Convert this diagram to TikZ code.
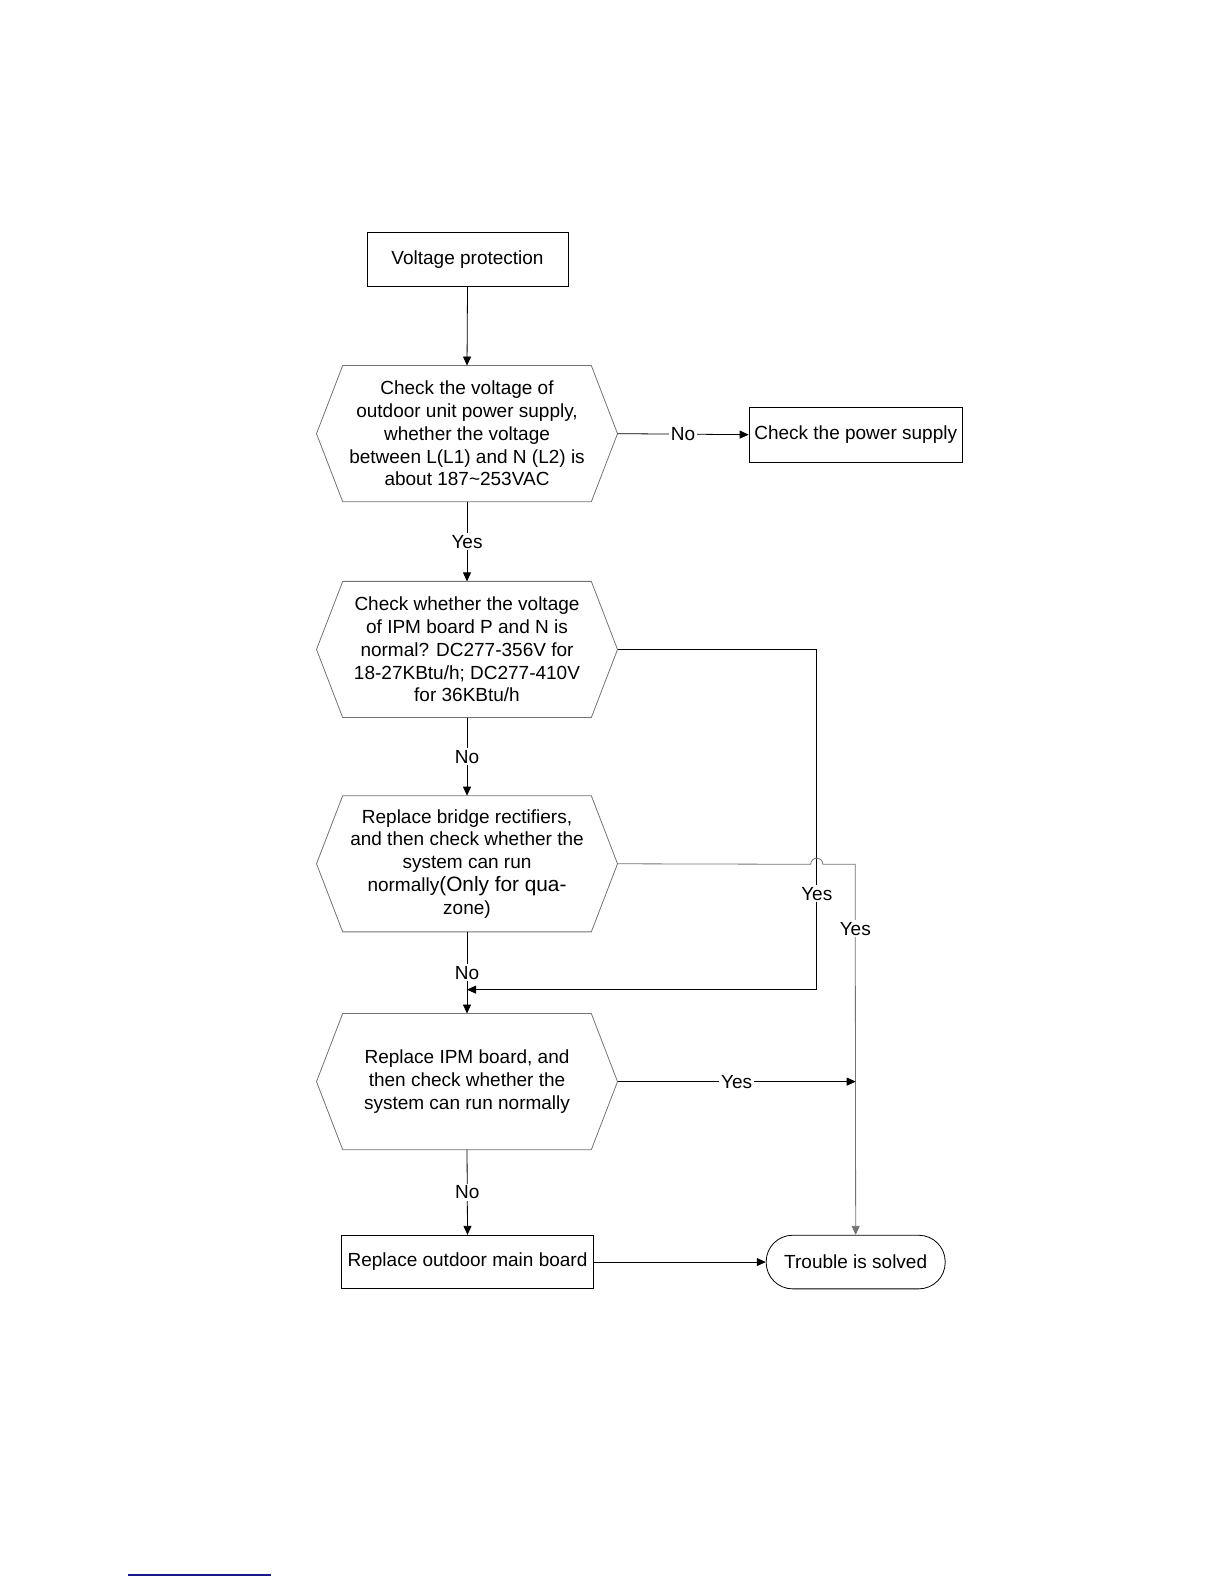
\documentclass[tikz,border=0pt]{standalone}
\usepackage{fontspec}
\setmainfont{Liberation Sans}
\usetikzlibrary{arrows.meta}
\definecolor{hexgray}{gray}{0.45}
\definecolor{linkblue}{rgb}{0.1,0.1,0.55}
\tikzset{
  box/.style={draw, minimum height=26.8pt, inner sep=2pt},
  hexbox/.style={minimum width=150.1pt, minimum height=67.7pt, inner sep=0pt, align=center},
  lbl/.style={fill=white, inner sep=1pt, text=black},
  arr/.style={-{Triangle[length=4.5pt,width=4pt]}},
}
\begin{document}
\begin{tikzpicture}[x=0.5054pt,y=-0.5054pt,font=\fontsize{9.5}{11.37}\selectfont]
      \useasboundingbox (0,0) rectangle (1211,1567);
      \node[box, minimum width=100.6pt] (volt) at (462.5,256.5) {Voltage protection};
      \node[hexbox] (chkvolt) at (462,429) {Check the voltage of\\outdoor unit power supply,\\whether the voltage\\between L(L1) and N (L2) is\\about 187\textasciitilde253VAC};
      \node[box, minimum width=106.6pt, minimum height=27.3pt] (power) at (846.5,430) {Check the power supply};
      \node[hexbox] (chkipm) at (462,642.5) {Check whether the voltage\\of IPM board P and N is\\normal? DC277-356V for\\18-27KBtu/h; DC277-410V\\for 36KBtu/h};
      \node[hexbox] (rectif) at (462,854.5) {Replace bridge rectifiers,\\and then check whether the\\system can run\\normally\fontsize{10.4}{12.1}\selectfont(Only for qua-\\zone)};
      \node[hexbox] (ipmnew) at (462,1070) {Replace IPM board, and\\then check whether the\\system can run normally};
      \node[box, minimum width=125.8pt] (mainbd) at (462.5,1248.5) {Replace outdoor main board};
      \node[draw, rounded corners=13.2pt, minimum width=89.5pt, minimum height=26.8pt] (solved) at (846.5,1248.5) {Trouble is solved};
      % hexagon outlines
      \foreach \h in {chkvolt,chkipm,rectif,ipmnew}
        \draw[hexgray] ([xshift=13.1pt]\h.north west) -- ([xshift=-13.1pt]\h.north east) -- (\h.east)
          -- ([xshift=-13.1pt]\h.south east) -- ([xshift=13.1pt]\h.south west) -- (\h.west) -- cycle;
      \coordinate (ipmturn) at (808,979);
      \coordinate (ipmjoin) at (462,979);
      \coordinate (hopin) at (802,855);
      \begin{scope}[arr]
        \draw (volt.south) to (chkvolt.north);
        \draw (chkvolt.east) to node[lbl]{No} (power.west);
        \draw (chkvolt.south) to node[lbl]{Yes} (chkipm.north);
        \draw (chkipm.south) to node[lbl]{No} (rectif.north);
        \draw (rectif.south) to node[lbl]{No} (ipmnew.north);
        \draw (ipmnew.south) to node[lbl]{No} (mainbd.north);
        \draw (mainbd.east) to (solved.west);
        \draw (chkipm.east) -| node[lbl,pos=0.859]{Yes} (ipmturn) -- (ipmjoin);
        \draw[hexgray] (rectif.east) -- (hopin) arc (180:360:6) -- (846,855) -- node[lbl,pos=0.174]{Yes} (solved.north);
        \draw (ipmnew.east) to node[lbl]{Yes} (ipmnew.east -| solved.north);
      \end{scope}
      \draw[linkblue, line width=1pt] (127,1558) -- (268,1558);
    \end{tikzpicture}
\end{document}
